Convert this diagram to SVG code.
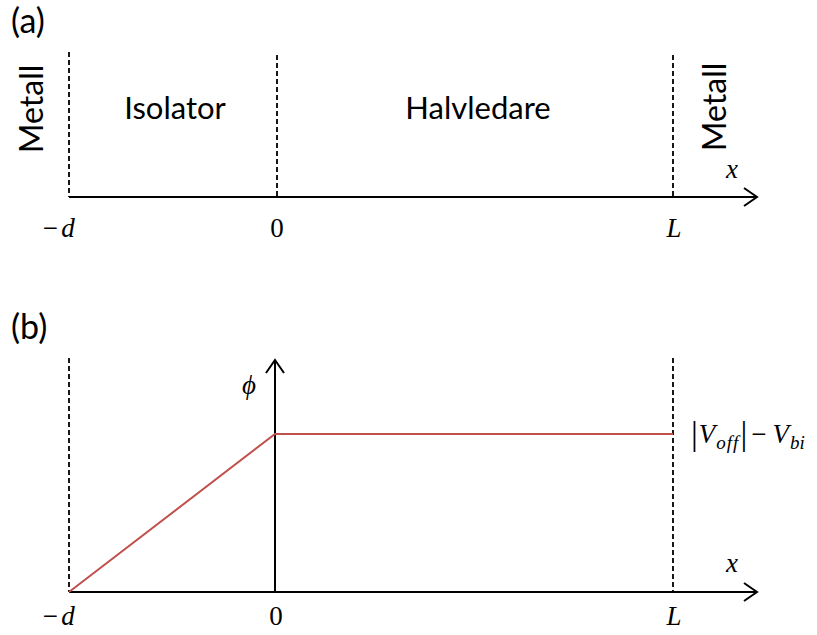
<svg xmlns="http://www.w3.org/2000/svg" width="817" height="635" viewBox="0 0 817 635">
<defs>
<marker id="arr" viewBox="0 0 16 20" refX="14" refY="10" markerWidth="16" markerHeight="20" markerUnits="userSpaceOnUse" orient="auto">
<path d="M1,1 L14,10 L1,19" fill="none" stroke="#000" stroke-width="2"/>
</marker>
<style>
.axis{stroke:#000;stroke-width:2;fill:none}
.dash{stroke:#000;stroke-width:1.8;stroke-dasharray:5,3;fill:none}
.curve{stroke:#c0504d;stroke-width:2;fill:none}
.sans{font-family:Lato,"Liberation Sans",sans-serif;fill:#000}
.math{font-family:"Liberation Serif","DejaVu Serif",serif;font-size:27px;fill:#000}
.it{font-style:italic}
</style>
</defs>
<rect width="817" height="635" fill="#fff"/>
<g id="panel-a">
<text class="sans" x="11" y="33" font-size="34">(a)</text>
<g id="a-metall-left"><text class="sans" font-size="32" text-anchor="middle" transform="translate(43,109) rotate(-90)">Metall</text></g>
<g id="a-isolator"><text class="sans" x="175" y="119" font-size="31" text-anchor="middle">Isolator</text></g>
<g id="a-halvledare"><text class="sans" x="478" y="119" font-size="31" text-anchor="middle">Halvledare</text></g>
<g id="a-metall-right"><text class="sans" font-size="32" text-anchor="middle" transform="translate(726,107) rotate(-90)">Metall</text></g>
<text class="math it" x="41" y="237">−<tspan dx="2">d</tspan></text>
<text class="math" x="277" y="237" text-anchor="middle">0</text>
<text class="math it" x="674" y="237" text-anchor="middle">L</text>
<text class="math it" x="732" y="178" text-anchor="middle">x</text>
</g>
<g id="panel-b">
<text class="sans" x="11" y="339" font-size="34">(b)</text>
<text class="math it" x="41" y="625">−<tspan dx="2">d</tspan></text>
<text class="math" x="276" y="625" text-anchor="middle">0</text>
<text class="math it" x="674" y="625" text-anchor="middle">L</text>
<text class="math it" x="732" y="572" text-anchor="middle">x</text>
<text class="math it" x="249" y="394" text-anchor="middle">ϕ</text>
<g id="b-label"><text class="math" x="691" y="443"><tspan font-size="34" dy="2">|</tspan><tspan class="it" dy="-2" dx="1">V</tspan><tspan class="it" font-size="19" dy="6" dx="1">o<tspan dx="1">f</tspan><tspan dx="1">f</tspan></tspan><tspan font-size="34" dy="-4" dx="2">|</tspan><tspan dy="-2" dx="4">−</tspan><tspan class="it" dx="6">V</tspan><tspan class="it" font-size="19" dy="6" dx="1">bi</tspan></text></g>
</g>
<g id="connectors">
<line class="dash" x1="69" y1="52" x2="69" y2="197"/>
<line class="dash" x1="277" y1="55" x2="277" y2="197"/>
<line class="dash" x1="673" y1="55" x2="673" y2="197"/>
<line class="axis" x1="69" y1="197" x2="757" y2="197" marker-end="url(#arr)"/>
<line class="dash" x1="69" y1="358" x2="69" y2="592"/>
<line class="dash" x1="673" y1="358" x2="673" y2="592"/>
<line class="axis" x1="275" y1="592" x2="275" y2="360" marker-end="url(#arr)"/>
<line class="axis" x1="69" y1="592" x2="757" y2="592" marker-end="url(#arr)"/>
<polyline class="curve" points="69,592 275,434 673,434"/>
</g>
</svg>
